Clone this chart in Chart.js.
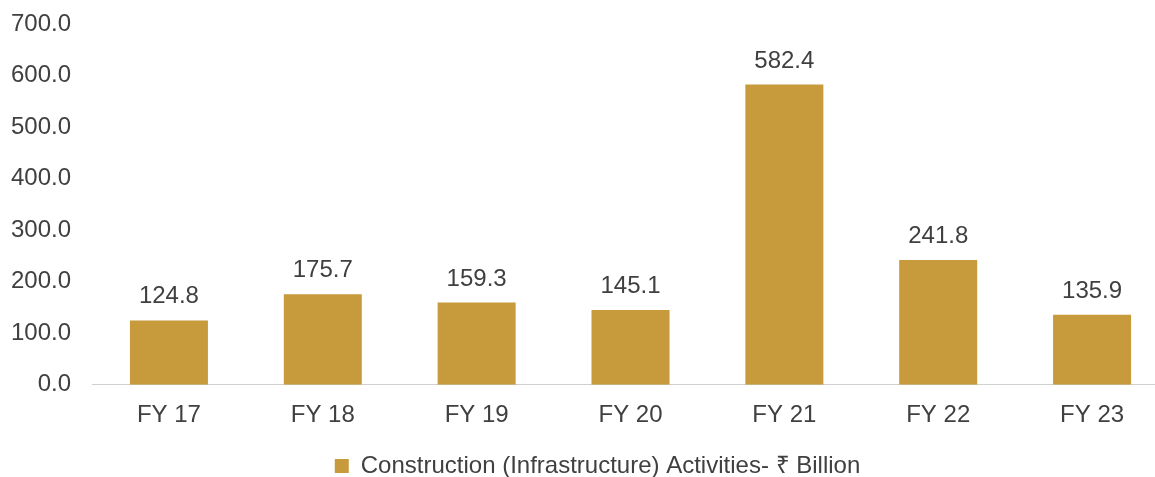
<!DOCTYPE html>
<html><head><meta charset="utf-8">
<script src="https://cdn.jsdelivr.net/npm/chart.js@4"></script>
<style>
html,body{margin:0;padding:0;background:#fff;overflow:hidden;}
#wrap{width:1200px;height:477px;position:relative;}
</style></head>
<body><div id="wrap"><canvas id="c"></canvas></div>
<script>
const categories = ["FY 17","FY 18","FY 19","FY 20","FY 21","FY 22","FY 23"];
const values = [124.8,175.7,159.3,145.1,582.4,241.8,135.9];
const seriesName = "Construction (Infrastructure) Activities- \u20B9 Billion";
const FONT = '"Liberation Sans", Arial, sans-serif';

const labelPlugin = {
  id:'valLabels',
  afterLayout(chart){
    const lg = chart.legend;
    if (lg) { lg.left += 8; lg.right += 8; }
  },
  afterDatasetsDraw(chart){
    const ctx = chart.ctx;
    const meta = chart.getDatasetMeta(0);
    ctx.save();
    ctx.font = '24px ' + FONT;
    ctx.fillStyle = '#404040';
    ctx.textAlign = 'center';
    ctx.textBaseline = 'alphabetic';
    meta.data.forEach((el,i)=>{
      ctx.fillText(chart.data.datasets[0].data[i].toFixed(1), el.x, el.y - 17);
    });
    ctx.restore();
  }
};

new Chart(document.getElementById('c'),{
  type:'bar',
  data:{labels:categories,datasets:[{label:seriesName,data:values,backgroundColor:'#C79A3B',borderWidth:0,barPercentage:0.507,categoryPercentage:1}]},
  options:{
    responsive:true,maintainAspectRatio:false,animation:false,
    layout:{padding:{top:0,left:10,right:31,bottom:-11}},
    plugins:{
      legend:{position:'bottom',labels:{boxWidth:14,boxHeight:14,padding:4,color:'#404040',font:{family:FONT,size:24}}},
      tooltip:{enabled:false}
    },
    scales:{
      x:{grid:{display:false,drawTicks:false},border:{display:true,color:'#D0D0D0',width:1},
         ticks:{color:'#404040',padding:16,font:{family:FONT,size:24}},
         afterFit(s){ s.height += 4.5; }},
      y:{min:0,max:700,grid:{display:false,drawTicks:false},border:{display:false},
         ticks:{stepSize:100,padding:21,color:'#404040',callback:v=>Number(v).toFixed(1),font:{family:FONT,size:24}},
         afterFit(s){ s.width = 82; s.paddingTop = 24; }}
    }
  },
  plugins:[labelPlugin]
});
</script></body></html>
